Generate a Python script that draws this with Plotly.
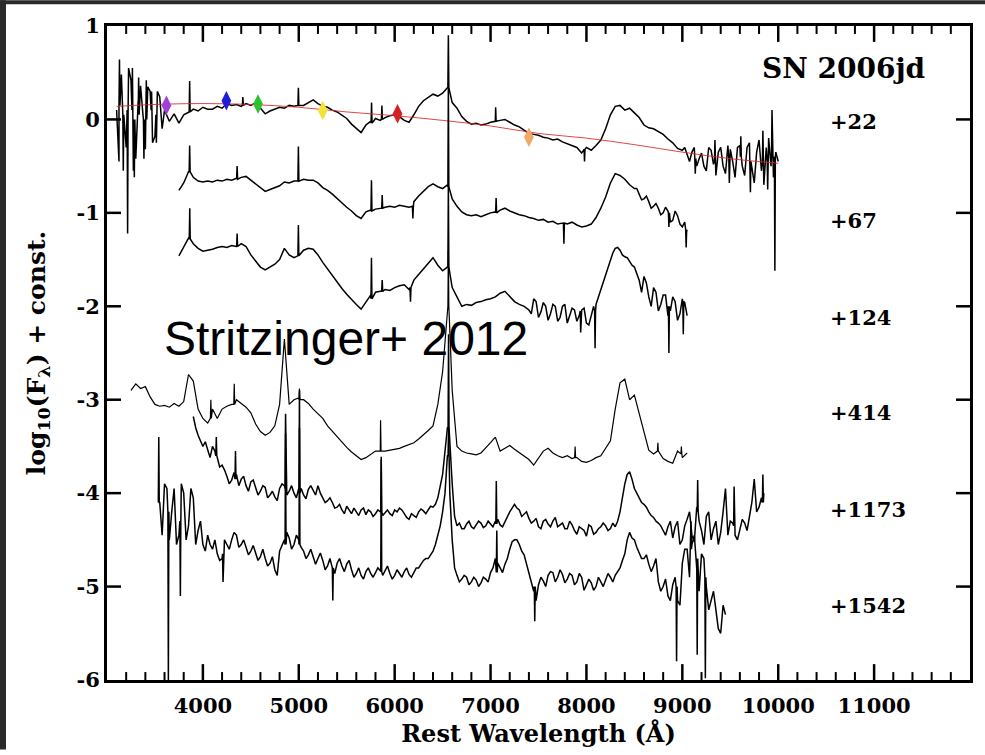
import numpy as np
import plotly.graph_objects as go

# ---------------------------------------------------------------------------
# SN 2006jd optical spectra, log10(F_lambda) + constant offsets.
# Each spectrum: first wavelength and flux samples every STEP Angstrom,
# optional in-between samples (offset by STEP/2) in the noisier stretches,
# and narrow features given as (wavelength, local continuum, peak value).
# ---------------------------------------------------------------------------
STEP = 50

# +22 d
d22_start = 3100
d22_flux = [
    0.10, 0.48, -0.30, 0.42, -0.42, 0.36, -0.32, 0.30, -0.18, 0.24,
    0.10, -0.02, 0.06, -0.04, 0.05, 0.08, 0.11, 0.09, 0.13, 0.11,
    0.11, 0.14, 0.12, 0.17, 0.15, 0.16, 0.14, 0.17, 0.15, 0.18,
    0.12, 0.06, 0.09, 0.11, 0.13, 0.12, 0.15, 0.14, 0.16, 0.15,
    0.18, 0.21, 0.17, 0.14, 0.13, 0.10, 0.08, 0.04, 0.01, -0.05,
    -0.10, -0.14, -0.06, -0.02, 0.01, -0.01, 0.02, 0.04, 0.05, 0.03,
    -0.01, -0.03, 0.05, 0.14, 0.20, 0.24, 0.27, 0.25, 0.28, 0.34,
    0.18, 0.12, 0.03, -0.02, -0.05, -0.04, -0.06, -0.05, -0.03, -0.02,
    -0.01, 0.00, -0.03, -0.06, -0.08, -0.12, -0.15, -0.16, -0.17, -0.19,
    -0.20, -0.22, -0.21, -0.24, -0.26, -0.28, -0.30, -0.36, -0.30, -0.33,
    -0.28, -0.22, -0.10, 0.05, 0.14, 0.15, 0.10, 0.12, 0.07, 0.02,
    -0.06, -0.09, -0.10, -0.13, -0.16, -0.21, -0.25, -0.31, -0.33, -0.38,
    -0.35, -0.50, -0.36, -0.55, -0.33, -0.60, -0.30, -0.58, -0.32, -0.62,
    -0.28, -0.60, -0.25, -0.68, -0.22, -0.70, -0.20, -0.62, -0.45,
]
d22_mid_blue_start = 3125
d22_mid_blue = [-0.45, 0.05, 0.55, -0.55, 0.20, 0.05, 0.35, -0.25, 0.30, -0.10]
d22_mid_red_start = 9025
d22_mid_red = [
    -0.30, -0.45, -0.30, -0.42, -0.50, -0.30, -0.48, -0.35, -0.50, -0.28,
    -0.45, -0.30, -0.50, -0.30, -0.52, -0.35, -0.55, -0.30, -0.50, -0.35,
]
d22_lines = [
    (3130, 0.15, 0.64), (3170, 0.05, -0.55), (3215, 0.10, -1.22),
    (3265, 0.10, 0.55), (3285, 0.00, -0.62), (3330, 0.05, 0.45),
    (3385, 0.00, -0.42), (3410, 0.00, 0.42), (3465, 0.10, 0.30),
    (3515, 0.05, -0.25), (3862, 0.08, 0.41), (4417, 0.15, 0.24),
    (4996, 0.15, 0.34), (5759, -0.04, 0.18), (5867, 0.00, 0.15),
    (6560, 0.34, 0.90), (7053, -0.02, 0.13), (7980, -0.32, -0.45),
    (9135, -0.42, -0.58), (9340, -0.45, -0.22), (9490, -0.42, -0.68),
    (9610, -0.40, -0.18), (9710, -0.45, -0.78), (9840, -0.45, -0.12),
    (9890, -0.45, -0.75), (9935, -0.40, 0.10), (9965, -0.40, -1.62),
]

# +67 d
d67_start = 3750
d67_flux = [
    -0.76, -0.68, -0.56, -0.62, -0.66, -0.67, -0.66, -0.67, -0.65, -0.66,
    -0.64, -0.65, -0.63, -0.62, -0.61, -0.65, -0.69, -0.74, -0.77, -0.75,
    -0.73, -0.71, -0.67, -0.68, -0.66, -0.66, -0.64, -0.65, -0.65, -0.68,
    -0.73, -0.76, -0.80, -0.85, -0.89, -0.94, -0.98, -1.03, -1.06, -0.99,
    -0.97, -0.96, -0.95, -0.94, -0.93, -0.94, -0.92, -0.93, -0.94, -0.88,
    -0.82, -0.77, -0.72, -0.69, -0.72, -0.74, -0.70, -0.85, -0.93, -0.99,
    -1.02, -1.03, -1.02, -1.04, -1.02, -1.00, -0.99, -0.97, -0.95, -0.98,
    -1.00, -1.02, -1.03, -1.05, -1.06, -1.08, -1.07, -1.10, -1.09, -1.12,
    -1.11, -1.12, -1.10, -1.13, -1.15, -1.14, -1.12, -1.05, -0.95, -0.83,
    -0.68, -0.58, -0.60, -0.64, -0.70, -0.74, -0.80, -0.85, -0.88, -0.93,
    -0.95, -1.00, -0.98, -1.08, -1.03, -1.15, -1.20,
]
d67_mid_red_start = 8525
d67_mid_red = [-0.74, -0.86, -0.82, -0.95, -0.90, -1.02, -0.94, -1.10, -0.98,
               -1.12, -1.10]
d67_lines = [
    (3862, -0.56, -0.28), (4357, -0.64, -0.50), (4996, -0.66, -0.29),
    (5758, -0.98, -0.65), (5870, -0.95, -0.81), (6190, -0.93, -1.06),
    (6560, -0.72, 0.35), (7058, -1.00, -0.84), (7765, -1.11, -1.33),
    (8860, -1.00, -1.15), (9040, -1.18, -1.37),
]

# +124 d
d124_start = 3750
d124_flux = [
    -1.46, -1.36, -1.27, -1.33, -1.38, -1.41, -1.40, -1.39, -1.37, -1.36,
    -1.37, -1.35, -1.36, -1.33, -1.36, -1.45, -1.52, -1.58, -1.61, -1.58,
    -1.55, -1.50, -1.38, -1.45, -1.48, -1.42, -1.40, -1.38, -1.39, -1.45,
    -1.53, -1.60, -1.68, -1.75, -1.81, -1.87, -1.93, -1.98, -2.03, -1.95,
    -1.88, -1.85, -1.84, -1.82, -1.83, -1.80, -1.78, -1.77, -1.82, -1.72,
    -1.66, -1.60, -1.53, -1.48, -1.56, -1.62, -1.58, -1.80, -1.90, -2.00,
    -1.98, -1.99, -1.96, -1.95, -1.93, -1.92, -1.90, -1.86, -1.84, -1.90,
    -1.95, -1.98, -2.00, -2.04, -1.92, -2.12, -1.96, -2.15, -1.98, -2.16,
    -2.00, -2.18, -2.02, -2.16, -2.04, -2.18, -2.10, -1.98, -1.82, -1.66,
    -1.50, -1.38, -1.40, -1.47, -1.52, -1.58, -1.72, -1.68, -1.90, -1.80,
    -2.05, -1.88, -2.10, -1.90, -2.15, -1.92, -2.10,
]
d124_mid_red_start = 7425
d124_mid_red = [
    -2.08, -1.95, -2.06, -2.00, -2.08, -2.00, -2.12, -1.98, -2.10, -2.04,
    -2.10, -2.02, -2.20, -2.00, -1.90, -1.75, -1.58, -1.43, -1.37, -1.45,
    -1.48, -1.56, -1.64, -1.85, -1.75, -2.00, -1.85, -1.98, -1.88, -2.05,
    -1.95, -2.08, -1.96,
]
d124_lines = [
    (3863, -1.28, -0.95), (4357, -1.36, -1.22), (4996, -1.46, -1.13),
    (5758, -1.92, -1.48), (5870, -1.84, -1.72), (6165, -1.80, -1.95),
    (6560, -1.58, -0.70), (7940, -2.05, -2.28), (8090, -2.05, -2.45),
    (8860, -2.00, -2.50), (9010, -1.95, -2.30),
]

# +414 d
d414_start = 3250
d414_flux = [
    -2.90, -2.83, -2.88, -2.86, -2.97, -3.05, -3.07, -3.06, -3.08, -3.04,
    -3.07, -3.02, -2.73, -2.80, -3.10, -3.20, -3.25, -3.10, -3.20, -3.10,
    -3.07, -3.05, -3.00, -3.04, -3.08, -3.14, -3.26, -3.34, -3.38, -3.35,
    -3.28, -3.05, -2.35, -3.05, -3.00, -2.98, -3.00, -3.04, -3.10, -3.15,
    -3.20, -3.28, -3.34, -3.40, -3.45, -3.51, -3.56, -3.60, -3.64, -3.62,
    -3.58, -3.55, -3.55, -3.55, -3.54, -3.53, -3.52, -3.50, -3.48, -3.46,
    -3.42, -3.38, -3.33, -3.28, -3.05, -2.70, -2.00, -2.90, -3.50, -3.55,
    -3.57, -3.58, -3.59, -3.57, -3.52, -3.46, -3.40, -3.55, -3.52, -3.49,
    -3.53, -3.57, -3.60, -3.64, -3.70, -3.62, -3.55, -3.52, -3.57, -3.60,
    -3.62, -3.60, -3.63, -3.62, -3.66, -3.67, -3.65, -3.62, -3.60, -3.52,
    -3.44, -3.10, -2.82, -2.78, -3.00, -2.95, -3.15, -3.35, -3.54, -3.58,
    -3.52, -3.63, -3.66, -3.68, -3.55, -3.62, -3.57,
]
d414_lines = [
    (4083, -3.20, -3.00), (4327, -3.05, -2.83), (5007, -3.00, -2.88),
    (5853, -3.55, -3.22), (6560, -2.00, -1.40), (7882, -3.62, -3.50),
    (8745, -3.55, -3.46), (8990, -3.58, -3.50),
]

# +1173 d
d1173_start = 3900
d1173_flux = [
    -3.18, -3.38, -3.50, -3.55, -3.50, -3.62, -3.70, -3.82, -3.86, -3.80,
    -3.85, -3.92, -3.88, -3.95, -3.98, -3.94, -4.02, -4.04, -3.95, -3.92,
    -3.98, -4.00, -3.95, -4.02, -3.96, -3.98, -3.92, -4.05, -4.08, -4.10,
    -4.15, -4.18, -4.14, -4.22, -4.20, -4.18, -4.23, -4.20, -4.22, -4.20,
    -4.21, -4.22, -4.18, -4.16, -4.22, -4.28, -4.24, -4.20, -4.19, -4.18,
    -4.15, -4.05, -3.80, -3.30, -3.90, -4.35, -4.38, -4.33, -4.36, -4.34,
    -4.32, -4.35, -4.33, -4.30, -4.34, -4.30, -4.20, -4.12, -4.18, -4.22,
    -4.27, -4.30, -4.36, -4.30, -4.33, -4.30, -4.36, -4.32, -4.38, -4.34,
    -4.44, -4.38, -4.46, -4.36, -4.42, -4.36, -4.35, -4.38, -4.36, -4.20,
    -3.90, -3.77, -3.95, -4.05, -4.12, -4.20, -4.26, -4.32, -4.40, -4.36,
    -4.48, -4.30, -4.50, -4.28, -4.45, -4.15, -4.40, -4.25, -4.50, -4.30,
    -4.42, -3.95, -4.30, -4.45, -4.38, -4.32, -4.25, -3.85, -4.15, -4.00,
]
d1173_mid_blue_start = 3925
d1173_mid_blue = [
    -3.30, -3.45, -3.45, -3.62, -3.55, -3.72, -3.75, -3.90, -3.78, -3.92,
    -3.82, -3.98, -3.86, -4.02, -3.92, -4.05, -3.98, -4.08, -3.90, -4.02,
    -3.92, -4.05, -3.95, -4.06, -3.92, -4.02, -4.00, -4.10, -4.05, -4.16,
    -4.12, -4.22, -4.18, -4.16, -4.24, -4.16, -4.18, -4.25, -4.18, -4.24,
    -4.18, -4.24, -4.20, -4.18, -4.26, -4.22, -4.26, -4.17, -4.22, -4.14,
    -4.12,
]
d1173_mid_red_start = 6625
d1173_mid_red = [
    -4.25, -4.32, -4.38, -4.30, -4.38, -4.30, -4.37, -4.30, -4.36, -4.28,
    -4.36, -4.24, -4.16, -4.16, -4.25, -4.20, -4.32, -4.27, -4.38, -4.28,
    -4.36, -4.26, -4.34, -4.38, -4.30, -4.40, -4.36, -4.40, -4.34, -4.44,
    -4.38, -4.32, -4.40, -4.32, -4.30, -4.05, -3.80, -3.85, -4.00, -4.10,
    -4.15, -4.24, -4.30, -4.35, -4.45, -4.30, -4.36, -4.55, -4.35, -4.20,
    -4.52, -4.30, -4.55, -4.20, -4.38, -4.55, -4.20, -4.45, -4.32, -4.50,
    -4.28, -4.40, -4.10, -4.20, -4.05,
]
d1173_lines = [
    (4140, -3.60, -3.40), (4340, -3.85, -3.55), (4862, -3.95, -3.15),
    (5007, -4.00, -2.90), (5860, -4.20, -3.61), (6562, -3.30, -2.30),
    (7060, -4.33, -3.87), (9160, -4.20, -3.86), (9540, -4.35, -3.93),
    (9840, -4.10, -3.80),
]

# +1542 d
d1542_start = 3550
d1542_flux = [
    -4.10, -3.90, -4.50, -3.95, -4.45, -4.00, -4.35, -4.05, -4.40, -4.55,
    -4.45, -4.60, -4.65, -4.70, -4.55, -4.50, -4.45, -4.55, -4.58, -4.62,
    -4.64, -4.68, -4.70, -4.75, -4.82, -4.62, -4.50, -4.48, -4.55, -4.50,
    -4.62, -4.66, -4.68, -4.70, -4.72, -4.78, -4.80, -4.75, -4.78, -4.76,
    -4.82, -4.86, -4.88, -4.84, -4.86, -4.85, -4.83, -4.82, -4.86, -4.88,
    -4.86, -4.84, -4.87, -4.85, -4.80, -4.72, -4.70, -4.62, -4.45, -4.20,
    -3.60, -4.50, -4.88, -4.92, -4.90, -4.95, -4.93, -4.96, -4.92, -4.85,
    -4.70, -4.80, -4.76, -4.60, -4.50, -4.55, -4.66, -4.85, -5.05, -4.98,
    -4.94, -4.88, -4.85, -4.90, -4.87, -4.92, -4.88, -4.95, -4.90, -4.98,
    -4.96, -5.00, -4.95, -4.93, -4.90, -4.88, -4.80, -4.65, -4.42, -4.50,
    -4.64, -4.70, -4.76, -4.78, -4.95, -5.00, -5.10, -4.98, -5.15, -4.75,
    -4.60, -4.55, -4.80, -4.65, -5.00, -5.15, -5.25, -5.50, -5.30,
]
d1542_mid_start = 3575
d1542_mid = [
    -4.45, -3.95, -4.20, -4.55, -3.90, -4.50, -3.95, -4.55, -4.30, -4.62,
    -4.55, -4.50, -4.72, -4.50, -4.60, -4.42, -4.58, -4.50, -4.66, -4.56,
    -4.72, -4.60, -4.78, -4.68, -4.88, -4.56, -4.42, -4.60, -4.45, -4.58,
    -4.70, -4.60, -4.76, -4.64, -4.82, -4.70, -4.86, -4.70, -4.84, -4.72,
    -4.90, -4.80, -4.92, -4.80, -4.90, -4.80, -4.88, -4.78, -4.92, -4.82,
    -4.90, -4.80, -4.90, -4.80, -4.76, -4.70, -4.66, -4.55, -4.35, -4.00,
    -4.00, -4.80, -4.95, -4.88, -4.98, -4.90, -5.00, -4.90, -4.95, -4.80,
    -4.75, -4.85, -4.70, -4.52, -4.50, -4.62, -4.75, -4.95, -5.15, -4.90,
    -5.00, -4.84, -4.95, -4.82, -4.96, -4.86, -4.98, -4.86, -5.04, -4.92,
    -5.04, -4.90, -5.00, -4.86, -4.95, -4.84, -4.72, -4.50, -4.48, -4.58,
    -4.70, -4.66, -4.84, -4.70, -5.05, -4.92, -5.15, -4.90, -5.20, -4.60,
    -4.90, -4.45, -5.05, -4.70, -5.25, -5.05, -5.45, -5.20,
]
d1542_lines = [
    (3540, -4.10, -3.40), (3640, -4.20, -6.00), (3765, -4.30, -5.10),
    (4210, -4.65, -4.95), (4862, -4.55, -3.36), (5007, -4.55, -3.30),
    (5355, -4.80, -5.15), (5860, -4.84, -3.64), (6562, -3.60, -3.30),
    (7065, -4.85, -4.40), (7461, -5.00, -5.37), (8940, -5.00, -5.80),
    (9090, -4.60, -4.30), (9155, -4.70, -5.73), (9240, -4.90, -5.98),
]

# Black-body fit to the +22 d spectrum and synthetic photometry points
bb_wave = [3100, 3500, 4000, 4500, 5000, 5500, 6000, 6500, 7000, 7500,
           8000, 8500, 9000, 9500, 10000]
bb_flux = [0.14, 0.16, 0.17, 0.16, 0.13, 0.08, 0.04, -0.01, -0.07, -0.15,
           -0.20, -0.27, -0.35, -0.42, -0.47]
phot_wave = [3620, 4245, 4575, 5250, 6030, 7400]
phot_flux = [0.15, 0.20, 0.165, 0.095, 0.06, -0.19]
phot_color = ["#a23fd6", "#1d1dd8", "#2fbf2f", "#f2e23a", "#d42222", "#f2a866"]

# Epoch labels (days) and their vertical positions
epoch_text = ["+22", "+67", "+124", "+414", "+1173", "+1542"]
epoch_y = [-0.02, -1.08, -2.12, -3.14, -4.17, -5.20]

x_range = [3000, 12000]
x_tick_vals = [4000, 5000, 6000, 7000, 8000, 9000, 10000, 11000]
x_minor_vals = [v for v in range(3200, 12000, 200) if v % 1000]
y_range = [-6, 1]
y_tick_vals = [-6, -5, -4, -3, -2, -1, 0, 1]

SERIF = "DejaVu Serif"
LINE_HALF_WIDTH = 5  # Angstrom half-width used to draw narrow features

# Page geometry (pixels)
W, H = 985, 755
L, R, T, B = 107, 15, 26, 70
pw, ph = W - L - R, H - T - B
px_per_x = pw / (x_range[1] - x_range[0])
px_per_y = ph / (y_range[1] - y_range[0])


def samples(start, values, step=STEP):
    wave = start + step * np.arange(len(values))
    return [(float(w), float(v)) for w, v in zip(wave, values)]


def build_spectrum(start, flux, extra, lines):
    pts = samples(start, flux)
    for s, vals in extra:
        pts += samples(s, vals)
    for lam, base, peak in lines:
        pts += [(lam - LINE_HALF_WIDTH, base), (lam, peak),
                (lam + LINE_HALF_WIDTH, base)]
    pts.sort(key=lambda p: p[0])
    return [p[0] for p in pts], [p[1] for p in pts]


spectra = [
    (d22_start, d22_flux,
     [(d22_mid_blue_start, d22_mid_blue), (d22_mid_red_start, d22_mid_red)],
     d22_lines, 1.5),
    (d67_start, d67_flux, [(d67_mid_red_start, d67_mid_red)], d67_lines, 1.5),
    (d124_start, d124_flux, [(d124_mid_red_start, d124_mid_red)],
     d124_lines, 1.5),
    (d414_start, d414_flux, [], d414_lines, 1.2),
    (d1173_start, d1173_flux,
     [(d1173_mid_blue_start, d1173_mid_blue),
      (d1173_mid_red_start, d1173_mid_red)],
     d1173_lines, 1.5),
    (d1542_start, d1542_flux, [(d1542_mid_start, d1542_mid)],
     d1542_lines, 1.5),
]

fig = go.Figure()

for i, (start, flux, extra, lines, lw) in enumerate(spectra):
    wx, wy = build_spectrum(start, flux, extra, lines)
    fig.add_trace(go.Scatter(x=wx, y=wy, mode="lines",
                             line=dict(color="black", width=lw),
                             hoverinfo="skip", showlegend=False))
    if i == 0:
        fig.add_trace(go.Scatter(x=bb_wave, y=bb_flux, mode="lines",
                                 line=dict(color="rgba(214,40,40,0.85)",
                                           width=1, shape="spline"),
                                 hoverinfo="skip", showlegend=False))
        fig.add_trace(go.Scatter(x=phot_wave, y=phot_flux, mode="markers",
                                 marker=dict(symbol="diamond-tall", size=14,
                                             color=phot_color,
                                             line=dict(width=0)),
                                 hoverinfo="skip", showlegend=False))


# Inward tick marks on all four frame sides, drawn as line segments whose
# length is given in pixels and converted to axis units.
def x_tick_segments(values, length_px):
    d = length_px / px_per_y
    xs, ys = [], []
    for v in values:
        xs += [v, v, None, v, v, None]
        ys += [y_range[0], y_range[0] + d, None,
               y_range[1], y_range[1] - d, None]
    return xs, ys


def y_tick_segments(values, length_px):
    d = length_px / px_per_x
    xs, ys = [], []
    for v in values:
        xs += [x_range[0], x_range[0] + d, None,
               x_range[1], x_range[1] - d, None]
        ys += [v, v, None, v, v, None]
    return xs, ys


for (xs, ys), width in (
        (x_tick_segments(x_minor_vals, 8), 2),
        (x_tick_segments(x_tick_vals, 16), 2.5),
        (y_tick_segments(y_tick_vals[1:-1], 14), 2.5)):
    fig.add_trace(go.Scatter(x=xs, y=ys, mode="lines",
                             line=dict(color="black", width=width),
                             hoverinfo="skip", showlegend=False))

# Epoch labels and object name
for txt, yv in zip(epoch_text, epoch_y):
    fig.add_annotation(x=10518, y=yv, text=txt, showarrow=False,
                       xanchor="left", yanchor="middle",
                       font=dict(family=SERIF, size=21, color="black",
                                 weight="bold"))
fig.add_annotation(x=9807, y=0.55, text="SN 2006jd", showarrow=False,
                   xanchor="left", yanchor="middle",
                   font=dict(family=SERIF, size=28, color="black",
                             weight="bold"))
fig.add_annotation(x=3575, y=-2.35, text="Stritzinger+ 2012",
                   showarrow=False, xanchor="left", yanchor="middle",
                   font=dict(family="Liberation Sans", size=48,
                             color="black"))

# Dark strips along the top and left edges of the page
dark = "#2a2a2a"
fig.add_shape(type="rect", xref="paper", yref="paper", layer="below",
              x0=-L / pw, x1=(6 - L) / pw, y0=-B / ph, y1=(H - B) / ph,
              fillcolor=dark, line=dict(width=0))
fig.add_shape(type="rect", xref="paper", yref="paper", layer="below",
              x0=-L / pw, x1=(W - L) / pw, y0=(H - B - 4) / ph,
              y1=(H - B) / ph, fillcolor=dark, line=dict(width=0))

axis_font = dict(family=SERIF, size=21, color="black", weight="bold")
title_font = dict(family=SERIF, size=24, color="black", weight="bold")
frame = dict(showline=True, linewidth=3, linecolor="black", mirror=True,
             showgrid=False, zeroline=False, ticks="")

fig.update_layout(
    width=W, height=H,
    margin=dict(l=L, r=R, t=T, b=B, pad=0),
    paper_bgcolor="white",
    plot_bgcolor="white",
    showlegend=False,
    xaxis=dict(
        range=x_range, tickmode="array", tickvals=x_tick_vals,
        ticktext=[str(v) for v in x_tick_vals],
        tickfont=axis_font, ticklabelstandoff=5,
        title=dict(text="Rest Wavelength (Å)", font=title_font, standoff=8),
        **frame,
    ),
    yaxis=dict(
        range=y_range, tickmode="array", tickvals=y_tick_vals,
        ticktext=[str(v) for v in y_tick_vals],
        tickfont=axis_font, ticklabelstandoff=0,
        title=dict(text="log<sub>10</sub>(F<sub>λ</sub>) + const.",
                   font=dict(family=SERIF, size=25, color="black",
                             weight="bold"),
                   standoff=24),
        **frame,
    ),
)

fig.write_html("out.html")
